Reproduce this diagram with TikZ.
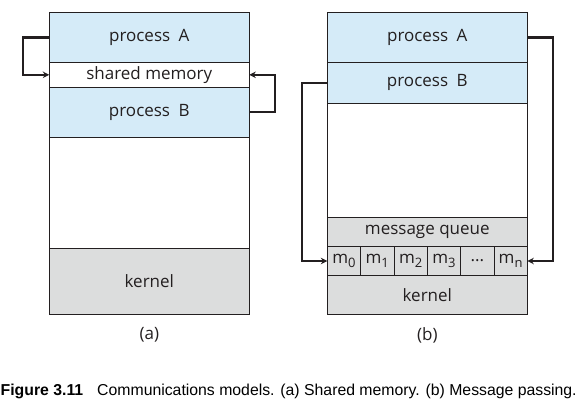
\documentclass[tikz,border=0pt]{standalone}
\usepackage{fontspec}
\setmainfont{Open Sans}
\newfontfamily\capfont{Liberation Sans}
\usetikzlibrary{arrows.meta}
\definecolor{pblue}{HTML}{D5EBF8}
\definecolor{kgray}{HTML}{DCDDDD}
\definecolor{ink}{HTML}{231F20}
\newcommand\qdots{...}
\newcommand\msub[1]{m\raisebox{-0.22em}{\fontsize{13}{14}\selectfont #1}}
\tikzset{
  blk/.style={draw=ink, line width=0.9pt, minimum width=200pt, inner sep=0pt, outer sep=0pt, font=\fontsize{17}{19}\selectfont, text=ink},
  cell/.style={draw=ink, line width=0.9pt, minimum width=33.333pt, minimum height=28.6pt, inner sep=0pt, outer sep=0pt, fill=kgray, font=\fontsize{17}{19}\selectfont, text=ink},
  conn/.style={draw=ink, line width=2.2pt, -{Stealth[length=6.5pt,width=6.5pt]}},
  sub/.style={font=\fontsize{17}{19}\selectfont, text=ink}
}
\begin{document}
\begin{tikzpicture}[x=1pt,y=-1pt]
\useasboundingbox (0,0) rectangle (586,409);
% (a)
\node[blk, fill=pblue, minimum height=49.6pt] (pA) at (149.3,37.5) {process\enspace A};
\node[blk, fill=white, minimum height=25pt] (sm) at (149.3,74.8) {shared memory};
\node[blk, fill=pblue, minimum height=49.7pt] (pB) at (149.3,112.15) {process\enspace B};
\node[blk, fill=white, minimum height=111.3pt] (ea) at (149.3,192.65) {};
\node[blk, fill=kgray, minimum height=66pt] (ka) at (149.3,281.3) {kernel};
\node[sub] (la) at (149.3,335) {(a)};
\draw[conn] (pA.west) -- ++(-26.6,0) |- (sm.west);
\draw[conn] (pB.east) -- ++(26,0) |- (sm.east);
% (b)
\node[blk, fill=pblue, minimum height=49.6pt] (pA2) at (427.3,37.5) {process\enspace A};
\node[blk, fill=pblue, minimum height=41pt] (pB2) at (427.3,82.8) {process\enspace B};
\node[blk, fill=white, minimum height=114pt] (eb) at (427.3,160.3) {};
\node[blk, fill=kgray, minimum height=29.4pt] (mq) at (427.3,232) {message queue};
\foreach \i/\t in {0/\msub{0},1/\msub{1},2/\msub{2},3/\msub{3},4/\qdots,5/\msub{n}}{
  \node[cell] (c\i) at (327.3+16.667+33.333*\i,261) {\t};
}
\node[blk, fill=kgray, minimum height=39pt] (kb) at (427.3,294.8) {kernel};
\node[sub] (lb) at (427.3,335) {(b)};
\draw[conn] (pB2.west) -- ++(-25.6,0) |- (c0.west);
\draw[conn] (pA2.east) -- ++(26,0) |- (c5.east);
% caption
\node[anchor=base west, inner sep=0pt, font=\capfont\fontsize{15.8}{18}\selectfont] (cap) at (0.5,395) {\textbf{Figure 3.11}\hspace{14pt}Communications models. (a) Shared memory. (b) Message passing.};
\end{tikzpicture}
\end{document}
